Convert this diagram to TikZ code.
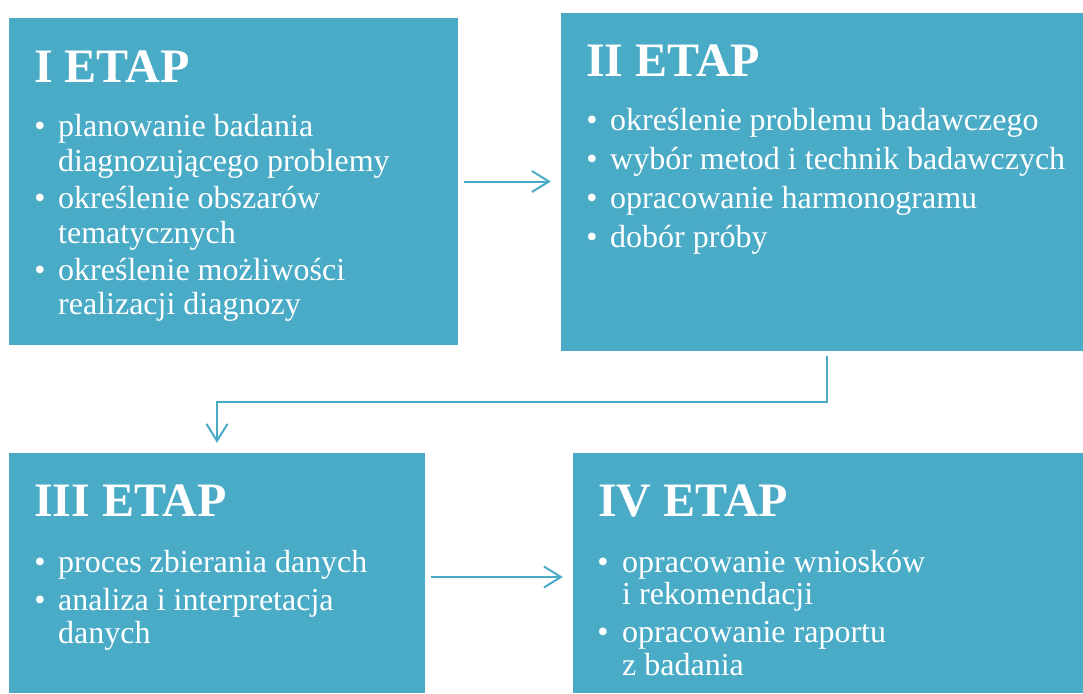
\documentclass[tikz,border=0pt]{standalone}
\usepackage{fontspec}
\setmainfont{Liberation Serif}
\usetikzlibrary{arrows.meta}
\definecolor{stagecol}{HTML}{4AABC6}
\tikzset{
  stagebox/.style={fill=stagecol, draw=none, inner sep=0pt, rectangle},
  title/.style={anchor=base west, inner sep=0pt, text=white, font=\fontsize{48}{48}\selectfont\bfseries},
  itemtxt/.style={anchor=base west, inner sep=0pt, text=white, font=\fontsize{32}{32}\selectfont},
  bul/.style={anchor=base, inner sep=0pt, text=white, font=\fontsize{32}{32}\selectfont},
  flow/.style={draw=stagecol, line width=2pt, -{Straight Barb[length=17pt,width=21pt,line width=2pt]}}
}
\begin{document}
\begin{tikzpicture}[x=1pt,y=-1pt]
\useasboundingbox (0,0) rectangle (1083,693);
% boxes
\node[stagebox, minimum width=449pt, minimum height=327pt] (b1) at (233.5,181.5) {};
\node[stagebox, minimum width=522pt, minimum height=338pt] (b2) at (822,182) {};
\node[stagebox, minimum width=416pt, minimum height=240pt] (b3) at (217,573) {};
\node[stagebox, minimum width=510pt, minimum height=240pt] (b4) at (828,573) {};
% box I
\node[title] (t1) at (34,82) {I ETAP};
\node[bul] (b1a) at (40,136) {•};
\node[itemtxt] (l1a) at (58,136) {planowanie badania};
\node[itemtxt] (l1b) at (58,171) {diagnozującego problemy};
\node[bul] (b1b) at (40,208) {•};
\node[itemtxt] (l1c) at (58,208) {określenie obszarów};
\node[itemtxt] (l1d) at (58,243) {tematycznych};
\node[bul] (b1c) at (40,280) {•};
\node[itemtxt] (l1e) at (58,280) {określenie możliwości};
\node[itemtxt] (l1f) at (58,314) {realizacji diagnozy};
% box II
\node[title] (t2) at (586,76) {II ETAP};
\node[bul] (b2a) at (592,130) {•};
\node[itemtxt] (l2a) at (610,130) {określenie problemu badawczego};
\node[bul] (b2b) at (592,169) {•};
\node[itemtxt] (l2b) at (610,169) {wybór metod i technik badawczych};
\node[bul] (b2c) at (592,208) {•};
\node[itemtxt] (l2c) at (610,208) {opracowanie harmonogramu};
\node[bul] (b2d) at (592,247) {•};
\node[itemtxt] (l2d) at (610,247) {dobór próby};
% box III
\node[title] (t3) at (34,516) {III ETAP};
\node[bul] (b3a) at (40,572) {•};
\node[itemtxt] (l3a) at (58,572) {proces zbierania danych};
\node[bul] (b3b) at (40,610) {•};
\node[itemtxt] (l3b) at (58,610) {analiza i interpretacja};
\node[itemtxt] (l3c) at (58,643) {danych};
% box IV
\node[title] (t4) at (598,516) {IV ETAP};
\node[bul] (b4a) at (603,572) {•};
\node[itemtxt] (l4a) at (622,572) {opracowanie wniosków};
\node[itemtxt] (l4b) at (622,604) {i rekomendacji};
\node[bul] (b4b) at (603,642) {•};
\node[itemtxt] (l4c) at (622,642) {opracowanie raportu};
\node[itemtxt] (l4d) at (622,675) {z badania};
% connectors
\draw[flow, shorten <=6pt, shorten >=10pt] (b1.east) -- (b1.east -| b2.west);
\draw[flow, shorten <=5pt, shorten >=10pt] ([xshift=5pt]b2.south) -- ++(0,51) -| (b3.north);
\draw[flow, shorten <=6pt, shorten >=10pt] ([yshift=-4pt]b3.east) -- ([yshift=-4pt]b4.west);
\end{tikzpicture}
\end{document}
